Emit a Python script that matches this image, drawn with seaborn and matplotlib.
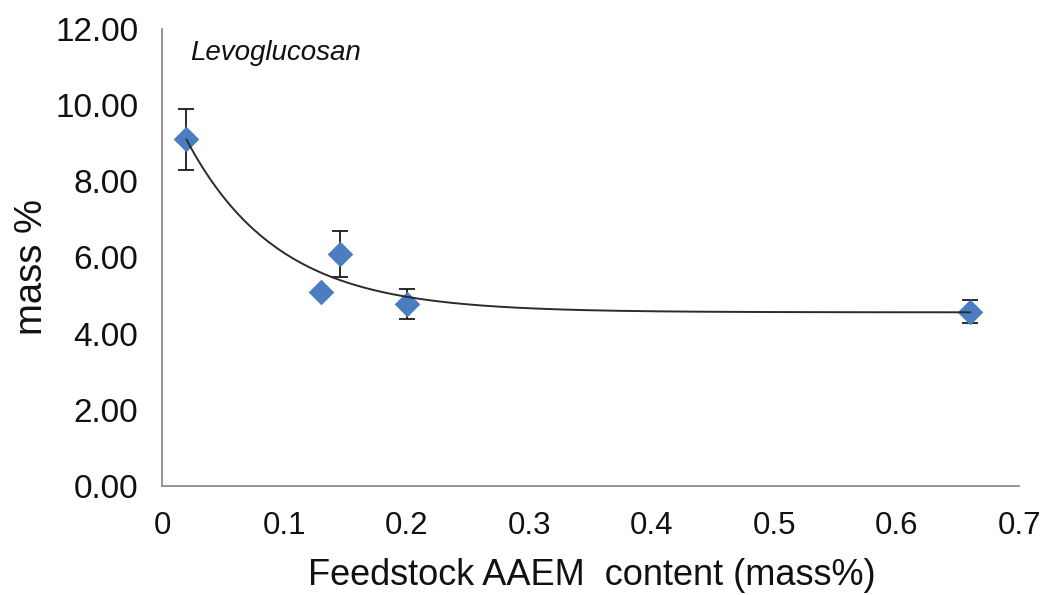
import numpy as np
import pandas as pd
import matplotlib
matplotlib.use("Agg")
import matplotlib.pyplot as plt
import seaborn as sns

# Levoglucosan yield versus feedstock AAEM content
aaem_content = [0.02, 0.13, 0.145, 0.20, 0.66]
levoglucosan = [9.10, 5.08, 6.09, 4.78, 4.57]
error = [0.80, 0.10, 0.60, 0.40, 0.30]
x_ticks = [0, 0.1, 0.2, 0.3, 0.4, 0.5, 0.6, 0.7]
y_ticks = [0, 2, 4, 6, 8, 10, 12]

sns.set_style("white")
plt.rcParams["font.family"] = ["Liberation Sans", "DejaVu Sans"]

df = pd.DataFrame({"x": aaem_content, "y": levoglucosan, "err": error})


def fit_exp_decay(x, y):
    """Least-squares fit of y = a*exp(-k*x) + c (grid over k, linear in a, c)."""
    x = np.asarray(x, float)
    y = np.asarray(y, float)
    best = None
    for k in np.linspace(0.5, 60, 6000):
        A = np.column_stack([np.exp(-k * x), np.ones_like(x)])
        sol, *_ = np.linalg.lstsq(A, y, rcond=None)
        sse = np.sum((A @ sol - y) ** 2)
        if best is None or sse < best[0]:
            best = (sse, k, sol)
    _, k, (a, c) = best
    return lambda t: a * np.exp(-k * t) + c


model = fit_exp_decay(df["x"], df["y"])
xs = np.linspace(df["x"].min(), df["x"].max(), 200)
trend = pd.DataFrame({"x": xs, "y": model(xs)})

fig = plt.figure(figsize=(10.47, 5.95), dpi=100)
ax = fig.add_axes([0.1547, 0.1832, 0.8190, 0.7684])

marker_color = "#4A7EC0"
ax.errorbar(df["x"], df["y"], yerr=df["err"], fmt="none", ecolor="#1a1a1a",
            elinewidth=1.3, capsize=6, capthick=1.3, zorder=2)
sns.scatterplot(data=df, x="x", y="y", marker="D", s=170, color=marker_color,
                edgecolor=marker_color, linewidth=0, ax=ax, zorder=3)
sns.lineplot(data=trend, x="x", y="y", color="#2b2b2b", linewidth=1.4,
             ax=ax, zorder=4)

ax.set_xlim(0, 0.7)
ax.set_ylim(0, 12)
ax.set_xticks(x_ticks)
ax.set_xticklabels([f"{t:g}" for t in x_ticks])
ax.set_yticks(y_ticks)
ax.set_yticklabels([f"{t:.2f}" for t in y_ticks])

for side in ("top", "right"):
    ax.spines[side].set_visible(False)
for side in ("left", "bottom"):
    ax.spines[side].set_color("#8c8c8c")
    ax.spines[side].set_linewidth(1.3)

ax.tick_params(axis="both", which="major", direction="out", color="#8c8c8c",
               width=1.3, labelcolor="#111111")
ax.tick_params(axis="y", length=9, pad=8, labelsize=24)
ax.tick_params(axis="x", length=7, pad=11, labelsize=22.5)

ax.set_xlabel("Feedstock AAEM  content (mass%)", fontsize=26, color="#111111",
              va="top")
ax.xaxis.set_label_coords(0.501, -0.158)
ax.set_ylabel("mass %", fontsize=27.5, color="#111111")
ax.yaxis.set_label_coords(-0.131, 0.48)

ax.text(0.033, 0.975, "Levoglucosan", transform=ax.transAxes, fontsize=20,
        style="italic", color="#111111", ha="left", va="top")

fig.savefig("out.png", dpi=100)
